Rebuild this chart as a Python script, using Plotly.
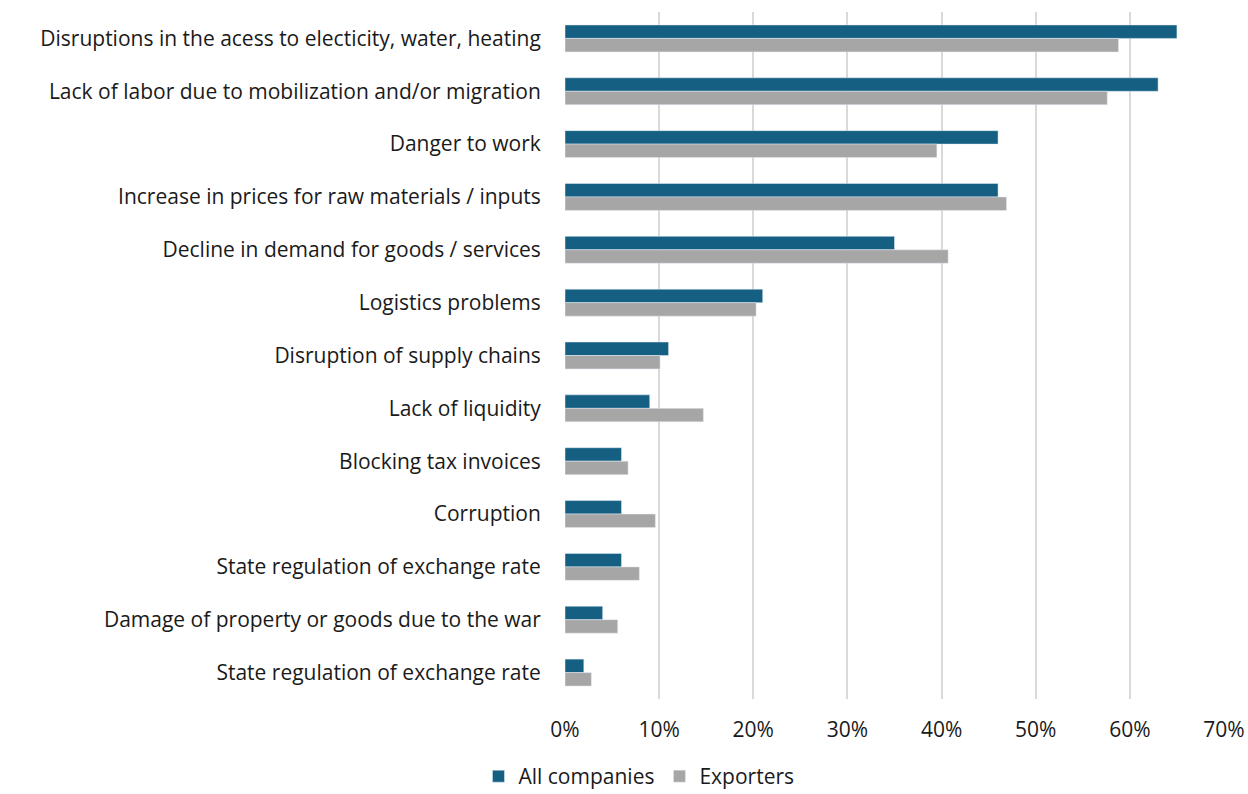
import plotly.graph_objects as go

categories = [
    "Disruptions in the acess to electicity, water, heating",
    "Lack of labor due to mobilization and/or migration",
    "Danger to work",
    "Increase in prices for raw materials / inputs",
    "Decline in demand for goods / services",
    "Logistics problems",
    "Disruption of supply chains",
    "Lack of liquidity",
    "Blocking tax invoices",
    "Corruption",
    "State regulation of exchange rate",
    "Damage of property or goods due to the war",
    "State regulation of exchange rate",
]
all_companies = [65, 63, 46, 46, 35, 21, 11, 9, 6, 6, 6, 4, 2]
exporters = [58.8, 57.6, 39.5, 46.9, 40.7, 20.3, 10.1, 14.7, 6.7, 9.6, 7.9, 5.6, 2.8]
x_ticks = [0, 10, 20, 30, 40, 50, 60, 70]
x_tick_labels = [f"{v}%" for v in x_ticks]

pos = list(range(len(categories)))
font = "Open Sans, Noto Sans, sans-serif"

fig = go.Figure()
fig.add_trace(go.Bar(y=pos, x=all_companies, orientation="h", name="All companies",
                     marker=dict(color="#156082")))
fig.add_trace(go.Bar(y=pos, x=exporters, orientation="h", name="Exporters",
                     marker=dict(color="#A6A6A6")))

fig.update_layout(
    width=1248, height=794,
    margin=dict(l=565, r=24, t=12, b=95, autoexpand=False),
    paper_bgcolor="white", plot_bgcolor="white",
    barmode="group", bargap=0.49, bargroupgap=0,
    font=dict(family=font, size=21, color="#1a1a1a"),
    showlegend=True,
    legend=dict(orientation="h", xref="container", yref="container",
                x=0.512, xanchor="center", y=0.022, yanchor="middle",
                font=dict(size=21), itemwidth=30, traceorder="normal"),
    xaxis=dict(range=[0, 70], tickmode="array", tickvals=x_ticks, ticktext=x_tick_labels,
               showgrid=True, gridcolor="#D9D9D9", gridwidth=2, zeroline=False, showline=False,
               ticks="outside", ticklen=12, tickcolor="rgba(0,0,0,0)"),
    yaxis=dict(tickmode="array", tickvals=pos, ticktext=categories, range=[12.5, -0.5],
               showgrid=False, zeroline=False, showline=False,
               ticks="outside", ticklen=19, tickcolor="rgba(0,0,0,0)"),
)

fig.write_html("out.html")
